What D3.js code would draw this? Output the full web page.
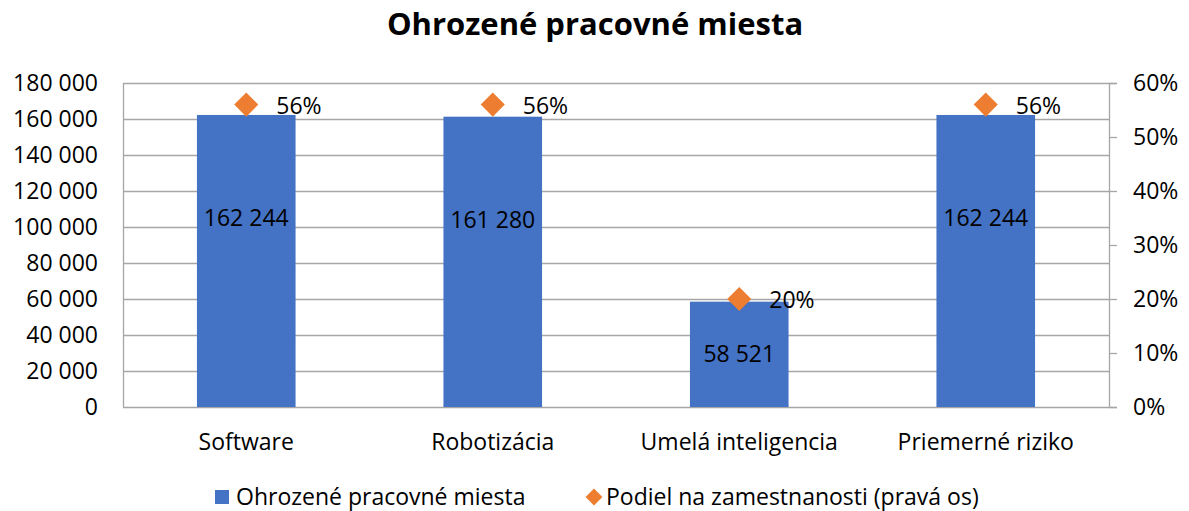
<!DOCTYPE html>
<html lang='sk'>
  <head>
    <meta charset='utf-8'>
    <style type='text/css'>
      body {margin: 0; background-color: #fff;}
      svg {display: block; font-family: 'Open Sans', sans-serif;}
    </style>
  </head>
  <body>
    <svg id='chart' width='1189' height='511'></svg>

    <script src='https://d3js.org/d3.v7.min.js'></script>
    <script type='text/javascript'>
        // data
        var categories = ["Software", "Robotizácia", "Umelá inteligencia", "Priemerné riziko"];
        var jobs       = [162244, 161280, 58521, 162244];
        var share      = [0.56, 0.56, 0.20, 0.56];
        var leftTicks  = [0, 20000, 40000, 60000, 80000, 100000, 120000, 140000, 160000, 180000];
        var rightTicks = [0, 0.1, 0.2, 0.3, 0.4, 0.5, 0.6];
        var title      = "Ohrozené pracovné miesta";
        var seriesNames = ["Ohrozené pracovné miesta", "Podiel na zamestnanosti (pravá os)"];

        var svg = d3.select("#chart");
        var margin = {top: 83, right: 80, bottom: 104, left: 123};
        var width  = 1189 - margin.left - margin.right;
        var height = 511 - margin.top - margin.bottom;

        var blue = "#4472c4", orange = "#ed7d31", grid = "#a6a6a6";

        // space-separated thousands like the original
        var fmt = function(v) { return d3.format(",")(v).replace(/,/g, " "); };

        var x  = d3.scaleBand().domain(categories).range([0, width]);
        var yL = d3.scaleLinear().domain([0, 180000]).range([height, 0]);
        var yR = d3.scaleLinear().domain([0, 0.6]).range([height, 0]);

        var g = svg.append("g")
            .attr("transform", "translate(" + margin.left + "," + margin.top + ")");

        // title
        svg.append("text")
            .attr("x", 595).attr("y", 35)
            .attr("text-anchor", "middle")
            .attr("font-size", 31).attr("font-weight", "bold")
            .attr("fill", "#000")
            .text(title);

        // gridlines
        g.append("g").selectAll("line").data(leftTicks)
          .enter().append("line")
            .attr("x1", 0).attr("x2", width)
            .attr("y1", function(d) { return Math.round(yL(d)) + 0.5; })
            .attr("y2", function(d) { return Math.round(yL(d)) + 0.5; })
            .attr("stroke", grid).attr("stroke-width", 1.3);

        // left border of plot area
        g.append("line")
            .attr("x1", 0.5).attr("x2", 0.5).attr("y1", 0).attr("y2", height)
            .attr("stroke", grid).attr("stroke-width", 1.3);

        // left axis labels
        var axL = g.append("g").call(d3.axisLeft(yL).tickValues(leftTicks).tickFormat(fmt).tickSize(0).tickPadding(25));
        axL.select(".domain").remove();
        axL.selectAll("text").attr("font-size", 23).attr("fill", "#000").attr("font-family", "'Open Sans', sans-serif");

        // right axis
        var axR = g.append("g").attr("transform", "translate(" + width + ",0)")
            .call(d3.axisRight(yR).tickValues(rightTicks).tickFormat(d3.format(".0%")).tickSize(8).tickPadding(16));
        axR.select(".domain").attr("stroke", grid).attr("stroke-width", 1.3);
        axR.selectAll("line").attr("stroke", grid).attr("stroke-width", 1.3);
        axR.selectAll("text").attr("font-size", 23).attr("fill", "#000").attr("font-family", "'Open Sans', sans-serif");

        // category labels
        g.append("g").selectAll("text").data(categories)
          .enter().append("text")
            .attr("x", function(d) { return x(d) + x.bandwidth() / 2; })
            .attr("y", height + 43)
            .attr("text-anchor", "middle")
            .attr("font-size", 23).attr("fill", "#000")
            .text(function(d) { return d; });

        // bars
        var barW = x.bandwidth() * 0.4;
        g.append("g").selectAll("rect").data(jobs)
          .enter().append("rect")
            .attr("x", function(d, i) { return x(categories[i]) + (x.bandwidth() - barW) / 2; })
            .attr("y", function(d) { return yL(d); })
            .attr("width", barW)
            .attr("height", function(d) { return height - yL(d); })
            .attr("fill", blue);

        // bar value labels (dragged up in the original when the bar is tall)
        g.append("g").selectAll("text").data(jobs)
          .enter().append("text")
            .attr("x", function(d, i) { return x(categories[i]) + x.bandwidth() / 2; })
            .attr("y", function(d) { return Math.min(yL(d) + 103, (yL(d) + height) / 2) + 8; })
            .attr("text-anchor", "middle")
            .attr("font-size", 23).attr("fill", "#000")
            .text(fmt);

        // diamonds
        var diamond = d3.symbol().type(d3.symbolDiamond2).size(370);
        g.append("g").selectAll("path").data(share)
          .enter().append("path")
            .attr("transform", function(d, i) {
              return "translate(" + (x(categories[i]) + x.bandwidth() / 2) + "," + yR(d) + ")";
            })
            .attr("d", diamond)
            .attr("fill", orange);

        g.append("g").selectAll("text").data(share)
          .enter().append("text")
            .attr("x", function(d, i) { return x(categories[i]) + x.bandwidth() / 2 + 30; })
            .attr("y", function(d) { return yR(d) + 9; })
            .attr("font-size", 23).attr("fill", "#000")
            .text(d3.format(".0%"));

        // legend
        var leg = svg.append("g");
        leg.append("rect").attr("x", 215).attr("y", 490).attr("width", 14).attr("height", 14).attr("fill", blue);
        leg.append("text").attr("x", 236).attr("y", 505).attr("font-size", 23).attr("fill", "#000").text(seriesNames[0]);
        leg.append("path").attr("transform", "translate(594,497)")
            .attr("d", d3.symbol().type(d3.symbolDiamond2).size(180)).attr("fill", orange);
        leg.append("text").attr("x", 606).attr("y", 505).attr("font-size", 23).attr("fill", "#000").text(seriesNames[1]);
    </script>
  </body>
</html>
